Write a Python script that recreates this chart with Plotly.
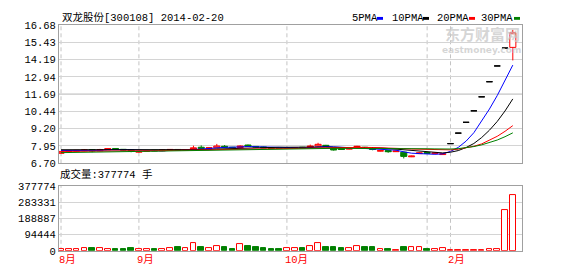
import plotly.graph_objects as go

# ---------------- data ----------------
dates = [
    "2013-08-19", "2013-08-20", "2013-08-21", "2013-08-22", "2013-08-23",
    "2013-08-26", "2013-08-27", "2013-08-28", "2013-08-29", "2013-08-30",
    "2013-09-02", "2013-09-03", "2013-09-04", "2013-09-05", "2013-09-06",
    "2013-09-09", "2013-09-10", "2013-09-11", "2013-09-12", "2013-09-13",
    "2013-09-16", "2013-09-17", "2013-09-18", "2013-09-23", "2013-09-24",
    "2013-09-25", "2013-09-26", "2013-09-27", "2013-09-30",
    "2013-10-08", "2013-10-09", "2013-10-10", "2013-10-11", "2013-10-14",
    "2013-10-15", "2013-10-16", "2013-10-17", "2013-10-18", "2013-10-21",
    "2013-10-22", "2013-10-23", "2013-10-24", "2013-10-25", "2013-10-28",
    "2013-10-29", "2013-10-30", "2013-10-31",
    "2013-11-01", "2013-11-04", "2013-11-05",
    "2014-02-10", "2014-02-11", "2014-02-12", "2014-02-13", "2014-02-14",
    "2014-02-17", "2014-02-18", "2014-02-19", "2014-02-20",
]
opens = [7.42, 7.55, 7.57, 7.60, 7.68, 7.60, 7.68, 7.77, 7.71, 7.66,
         7.50, 7.56, 7.64, 7.60, 7.64, 7.70, 7.65, 7.70, 7.86, 7.78,
         7.82, 7.93, 7.86, 7.84, 8.02, 7.92, 7.88, 7.82, 7.80, 7.77,
         7.79, 7.86, 7.84, 7.95, 8.00, 7.77, 7.76, 7.72, 7.84, 7.86,
         7.80, 7.58, 7.62, 7.54, 7.50, 7.17, 7.40, 7.48, 7.40, 7.33,
         8.12, 8.88, 9.66, 10.49, 11.50, 12.59, 13.73, 15.02, 15.07]
highs = [7.58, 7.63, 7.66, 7.72, 7.70, 7.74, 7.78, 7.79, 7.72, 7.67,
         7.58, 7.65, 7.66, 7.68, 7.73, 7.72, 7.72, 7.97, 7.99, 7.85,
         8.10, 8.02, 7.88, 8.00, 8.05, 7.94, 7.90, 7.84, 7.82, 7.84,
         7.86, 7.88, 8.05, 8.18, 8.03, 7.80, 7.79, 7.80, 7.96, 7.88,
         7.84, 7.66, 7.64, 7.62, 7.55, 7.25, 7.50, 7.50, 7.47, 7.40,
         8.12, 8.88, 9.66, 10.49, 11.50, 12.59, 13.73, 15.02, 16.34]
lows = [7.40, 7.52, 7.54, 7.57, 7.50, 7.58, 7.66, 7.68, 7.63, 7.50,
        7.47, 7.54, 7.58, 7.58, 7.62, 7.63, 7.63, 7.68, 7.76, 7.75,
        7.80, 7.84, 7.81, 7.82, 7.90, 7.86, 7.80, 7.75, 7.74, 7.75,
        7.76, 7.80, 7.82, 7.90, 7.90, 7.62, 7.66, 7.70, 7.82, 7.78,
        7.64, 7.56, 7.46, 7.52, 7.05, 7.15, 7.37, 7.40, 7.38, 7.30,
        8.12, 8.88, 9.66, 10.49, 11.50, 12.59, 13.73, 15.02, 14.13]
closes = [7.56, 7.60, 7.63, 7.66, 7.60, 7.68, 7.76, 7.70, 7.66, 7.58,
          7.56, 7.62, 7.60, 7.65, 7.70, 7.65, 7.69, 7.82, 7.78, 7.82,
          7.95, 7.86, 7.84, 7.95, 7.93, 7.88, 7.82, 7.78, 7.77, 7.82,
          7.84, 7.82, 7.95, 8.07, 7.94, 7.66, 7.70, 7.77, 7.93, 7.80,
          7.70, 7.61, 7.54, 7.58, 7.20, 7.22, 7.45, 7.42, 7.44, 7.38,
          8.12, 8.88, 9.66, 10.49, 11.50, 12.59, 13.73, 15.02, 16.13]
volumes = [11000, 10500, 11500, 15000, 16500, 15000, 9500, 11000, 11500, 16500,
           9500, 9000, 9500, 9500, 15000, 20500, 17000, 44500, 22000, 15000,
           26000, 22500, 11000, 37000, 28000, 22500, 17000, 11000, 11500, 15000,
           15000, 15000, 26000, 44500, 22000, 22500, 17000, 15000, 26000, 22000,
           22500, 11000, 11500, 5500, 22500, 22000, 22500, 11000, 11500, 17000,
           5000, 4500, 5000, 5500, 5000, 10000, 11000, 239000, 326000]

ma5 = [7.62, 7.62, 7.61, 7.62, 7.61, 7.63, 7.67, 7.68, 7.68, 7.68,
       7.65, 7.62, 7.60, 7.60, 7.63, 7.64, 7.66, 7.70, 7.73, 7.75,
       7.81, 7.85, 7.85, 7.88, 7.91, 7.89, 7.88, 7.87, 7.84, 7.81,
       7.81, 7.81, 7.84, 7.90, 7.92, 7.89, 7.86, 7.83, 7.80, 7.77,
       7.78, 7.76, 7.72, 7.65, 7.53, 7.43, 7.40, 7.37, 7.35, 7.38,
       7.56, 7.85, 8.30, 8.91, 9.73, 10.62, 11.59, 12.67, 13.79]
ma10 = [7.68, 7.68, 7.67, 7.67, 7.66, 7.66, 7.66, 7.65, 7.65, 7.64,
        7.64, 7.65, 7.64, 7.64, 7.65, 7.65, 7.64, 7.65, 7.67, 7.69,
        7.73, 7.75, 7.78, 7.81, 7.83, 7.85, 7.87, 7.86, 7.86, 7.86,
        7.85, 7.85, 7.86, 7.87, 7.87, 7.85, 7.84, 7.83, 7.85, 7.85,
        7.83, 7.81, 7.77, 7.72, 7.65, 7.61, 7.58, 7.55, 7.50, 7.45,
        7.50, 7.62, 7.84, 8.13, 8.56, 9.09, 9.72, 10.48, 11.35]
ma20 = [7.56, 7.56, 7.57, 7.57, 7.57, 7.58, 7.58, 7.59, 7.59, 7.60,
        7.60, 7.61, 7.61, 7.62, 7.62, 7.63, 7.64, 7.65, 7.66, 7.67,
        7.69, 7.70, 7.71, 7.72, 7.74, 7.75, 7.75, 7.76, 7.76, 7.78,
        7.79, 7.80, 7.82, 7.84, 7.85, 7.85, 7.85, 7.85, 7.86, 7.85,
        7.84, 7.83, 7.81, 7.80, 7.76, 7.73, 7.71, 7.69, 7.67, 7.65,
        7.67, 7.72, 7.80, 7.93, 8.10, 8.35, 8.65, 9.01, 9.42]
ma30 = [7.47, 7.48, 7.49, 7.50, 7.51, 7.52, 7.53, 7.54, 7.55, 7.55,
        7.56, 7.57, 7.58, 7.59, 7.60, 7.61, 7.62, 7.63, 7.64, 7.65,
        7.66, 7.67, 7.68, 7.69, 7.70, 7.70, 7.71, 7.72, 7.72, 7.73,
        7.74, 7.75, 7.76, 7.77, 7.78, 7.78, 7.78, 7.78, 7.79, 7.80,
        7.80, 7.80, 7.80, 7.80, 7.78, 7.77, 7.76, 7.75, 7.74, 7.72,
        7.73, 7.76, 7.82, 7.91, 8.03, 8.18, 8.38, 8.62, 8.90]

ma_names = ["5PMA", "10PMA", "20PMA", "30PMA"]
ma_colors = ["#0000ff", "#000000", "#ff0000", "#008000"]

price_ticks = [6.70, 7.95, 9.20, 10.44, 11.69, 12.94, 14.19, 15.43, 16.68]
price_tick_labels = ["6.70", "7.95", "9.20", "10.44", "11.69", "12.94", "14.19", "15.43", "16.68"]
vol_ticks = [0, 94444, 188887, 283331, 377774]
vol_tick_labels = ["0", "94444", "188887", "283331", "377774"]

month_lines = ["2013-08-19", "2013-09-02", "2013-10-08", "2013-11-01", "2014-02-10"]
month_labels = ["8月", "9月", "10月", "", "2月"]

title_text = "双龙股份[300108] 2014-02-20"
volume_text = "成交量:377774 手"
watermark_cn = "东方财富网"
watermark_en = "eastmoney.com"

# ---------------- styling / geometry ----------------
W, H = 578, 276
RED, GREEN, BLACK = "#ff0000", "#008000", "#000000"
FRAME = "#a0a0a0"
GRID = "#d4d4d4"
FONT = "Liberation Mono, Noto Sans CJK SC, monospace"
FS = 10.5

def fx(px):
    return px / W

def fy(py):
    return 1 - py / H

plot_l, plot_r = 59, 522
price_top, price_bot = 21, 165.5
vol_top, vol_bot = 189.3, 257

n = len(dates)
doji = [o == c for o, c in zip(opens, closes)]

def pick(arr, keep):
    return [v if k else None for v, k in zip(arr, keep)]

normal = [not d for d in doji]

fig = go.Figure()

fig.add_trace(go.Candlestick(
    x=dates, open=pick(opens, normal), high=pick(highs, normal),
    low=pick(lows, normal), close=pick(closes, normal),
    increasing=dict(line=dict(color=RED, width=1), fillcolor="#ffffff"),
    decreasing=dict(line=dict(color=GREEN, width=1), fillcolor=GREEN),
    whiskerwidth=0, showlegend=False, xaxis="x", yaxis="y"))

fig.add_trace(go.Candlestick(
    x=dates, open=pick(opens, doji), high=pick(highs, doji),
    low=pick(lows, doji), close=pick(closes, doji),
    increasing=dict(line=dict(color=BLACK, width=1), fillcolor=BLACK),
    decreasing=dict(line=dict(color=BLACK, width=1), fillcolor=BLACK),
    whiskerwidth=0, showlegend=False, xaxis="x", yaxis="y"))

for name, vals, col in zip(ma_names, [ma5, ma10, ma20, ma30], ma_colors):
    fig.add_trace(go.Scatter(x=dates, y=vals, mode="lines", name=name,
                             line=dict(color=col, width=1), showlegend=False,
                             xaxis="x", yaxis="y"))

up = [c >= o for o, c in zip(opens, closes)]
fig.add_trace(go.Bar(
    x=dates, y=volumes, width=0.72,
    marker=dict(color=["#ffffff" if u else GREEN for u in up],
                line=dict(color=[RED if u else GREEN for u in up], width=1)),
    showlegend=False, xaxis="x2", yaxis="y2"))

xr = [-0.26, n - 1 + 1.18]
common_x = dict(type="category", categoryorder="array", categoryarray=dates,
                range=xr, showgrid=False, showline=True, mirror=True,
                linecolor=FRAME, linewidth=1, ticks="", showticklabels=False,
                zeroline=False, fixedrange=True)

fig.update_layout(
    width=W, height=H, margin=dict(l=0, r=0, t=0, b=0),
    paper_bgcolor="#ffffff", plot_bgcolor="#ffffff",
    boxgap=0.22, boxgroupgap=0, bargap=0,
    font=dict(family=FONT, size=FS, color="#000000"),
    xaxis=dict(domain=[fx(plot_l), fx(plot_r)], anchor="y",
               rangeslider=dict(visible=False), **common_x),
    xaxis2=dict(domain=[fx(plot_l), fx(plot_r)], anchor="y2", matches="x",
                **common_x),
    yaxis=dict(domain=[fy(price_bot), fy(price_top)], anchor="x",
               range=[price_ticks[0], price_ticks[-1]],
               tickmode="array", tickvals=price_ticks, ticktext=price_tick_labels,
               showgrid=True, gridcolor=GRID, gridwidth=1,
               showline=True, mirror=True, linecolor=FRAME, ticks="",
               zeroline=False, tickfont=dict(family=FONT, size=FS, color="#000000")),
    yaxis2=dict(domain=[fy(vol_bot), fy(vol_top)], anchor="x2",
                range=[vol_ticks[0], vol_ticks[-1]],
                tickmode="array", tickvals=vol_ticks, ticktext=vol_tick_labels,
                showgrid=True, gridcolor=GRID, gridwidth=1,
                showline=True, mirror=True, linecolor=FRAME, ticks="",
                zeroline=False, tickfont=dict(family=FONT, size=FS, color="#000000")),
)

shapes = []
# darker middle grid line in the price panel
shapes.append(dict(type="line", xref="x domain", x0=0, x1=1, yref="y",
                   y0=price_ticks[4], y1=price_ticks[4],
                   line=dict(color="#9a9a9a", width=1), layer="below"))
# dashed month separators
for d in month_lines:
    for xa, ya in (("x", "y domain"), ("x2", "y2 domain")):
        shapes.append(dict(type="line", xref=xa, x0=d, x1=d, yref=ya, y0=0, y1=1,
                           line=dict(color="#c4c4c4", width=1, dash="4px,3px"),
                           layer="below"))
# legend colour chips
chip_x = [(377, 383), (423, 429), (469, 475), (514, 520)]
for (a, b), col in zip(chip_x, ma_colors):
    shapes.append(dict(type="rect", xref="paper", yref="paper",
                       x0=fx(a), x1=fx(b), y0=fy(15.5), y1=fy(12.5),
                       fillcolor=col, line=dict(width=0)))
fig.update_layout(shapes=shapes)

ann = []
# watermark
ann.append(dict(text="<b>" + watermark_cn + "</b>", xref="paper", yref="paper",
                x=fx(482), y=fy(30), xanchor="center", yanchor="middle",
                showarrow=False, borderpad=0,
                font=dict(family="Noto Sans CJK SC", size=15,
                          color="rgba(200,200,200,0.75)")))
ann.append(dict(text="<b>" + watermark_en + "</b>", xref="paper", yref="paper",
                x=fx(481), y=fy(47.5), xanchor="center", yanchor="middle",
                showarrow=False, borderpad=0,
                font=dict(family="DejaVu Sans", size=9,
                          color="rgba(200,200,200,0.75)")))
# title and volume caption
ann.append(dict(text=title_text, xref="paper", yref="paper", x=fx(61), y=fy(13.5),
                xanchor="left", yanchor="middle", showarrow=False, borderpad=0,
                font=dict(family=FONT, size=FS, color="#000000")))
ann.append(dict(text=volume_text, xref="paper", yref="paper", x=fx(59), y=fy(177),
                xanchor="left", yanchor="middle", showarrow=False, borderpad=0,
                font=dict(family=FONT, size=FS, color="#000000")))
# MA legend labels
legend_x = [351, 391, 436, 480]
for name, lx in zip(ma_names, legend_x):
    ann.append(dict(text=name, xref="paper", yref="paper", x=fx(lx), y=fy(14),
                    xanchor="left", yanchor="middle", showarrow=False, borderpad=0,
                    font=dict(family=FONT, size=FS, color="#000000")))
# month labels under the volume panel
for d, lab in zip(month_lines, month_labels):
    if lab:
        ann.append(dict(text=lab, xref="x2", yref="paper", x=d, y=fy(266.5),
                        xanchor="left", yanchor="middle", xshift=-3,
                        showarrow=False, borderpad=0,
                        font=dict(family=FONT, size=FS, color=RED)))
fig.update_layout(annotations=ann)

fig.write_html("out.html")
